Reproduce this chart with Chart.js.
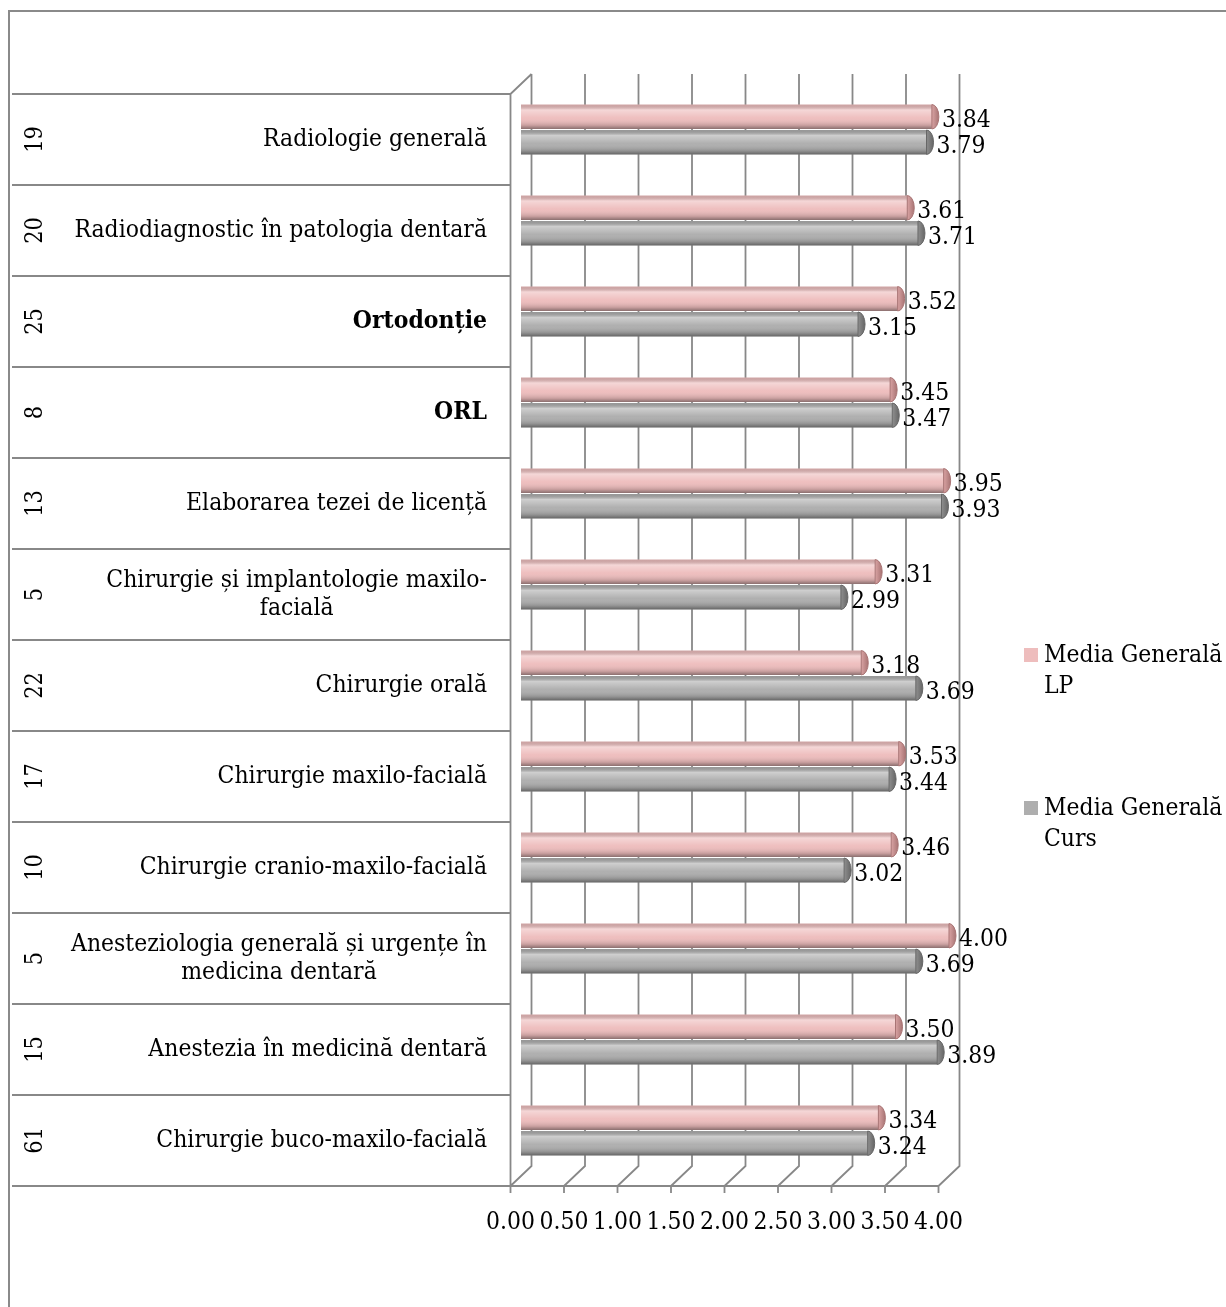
<!DOCTYPE html>
<html lang="ro">
<head>
  <meta charset="UTF-8" />
  <title>Media Generală LP / Curs</title>
  <style>
    body { margin: 0; background: #ffffff; }
    #chart { display: block; }
  </style>
</head>
<body>
  <canvas id="chart" width="1226" height="1307"></canvas>

  <script src="https://cdn.jsdelivr.net/npm/chart.js"></script>
  <script>
    // discipline (de sus in jos), numar de respondenti, medii
    const categories = [
      ['Radiologie generală'],
      ['Radiodiagnostic în patologia dentară'],
      ['Ortodonție'],
      ['ORL'],
      ['Elaborarea tezei de licență'],
      ['Chirurgie și implantologie maxilo-', 'facială'],
      ['Chirurgie orală'],
      ['Chirurgie maxilo-facială'],
      ['Chirurgie cranio-maxilo-facială'],
      ['Anesteziologia generală și urgențe în', 'medicina dentară'],
      ['Anestezia în medicină dentară'],
      ['Chirurgie buco-maxilo-facială']
    ];
    const respondents = ['19', '20', '25', '8', '13', '5', '22', '17', '10', '5', '15', '61'];
    const mediaLP   = [3.84, 3.61, 3.52, 3.45, 3.95, 3.31, 3.18, 3.53, 3.46, 4.00, 3.50, 3.34];
    const mediaCurs = [3.79, 3.71, 3.15, 3.47, 3.93, 2.99, 3.69, 3.44, 3.02, 3.69, 3.89, 3.24];
    const seriesNames = [['Media Generală', 'LP'], ['Media Generală', 'Curs']];

    const FONT = '"DejaVu Serif", serif';
    const boldRows = ['Ortodonție', 'ORL'];
    const DX = 10.5, DY = 10;   // jumatate din adancimea 3D

    // textul din original e putin "intins" pe verticala
    function tallText(ctx, s, x, y, sy = 1.14) {
      ctx.save();
      ctx.translate(x, y);
      ctx.scale(1, sy);
      ctx.fillText(s, 0, 0);
      ctx.restore();
    }

    // pereti, grila si eticheta axei + tabelul de categorii
    const frame3d = {
      id: 'frame3d',
      beforeDatasetsDraw(chart) {
        const { ctx, chartArea: a, scales: { x, y } } = chart;
        const ticks = x.ticks.map(t => t.value);
        const band = y.getPixelForValue(1) - y.getPixelForValue(0);
        ctx.save();
        // rama exterioara
        ctx.strokeStyle = '#8a8a8a';
        ctx.lineWidth = 2;
        ctx.strokeRect(9, 11, 1400, 1400);

        ctx.strokeStyle = '#888888';
        ctx.lineWidth = 1.8;
        ctx.beginPath();
        ticks.forEach(v => {
          const px = x.getPixelForValue(v);
          ctx.moveTo(px + DX, a.top - DY);
          ctx.lineTo(px + DX, a.bottom - DY);
          ctx.lineTo(px - DX, a.bottom + DY);
          ctx.lineTo(px - DX, a.bottom + DY + 7);
        });
        const x0 = x.getPixelForValue(0);
        const xN = x.getPixelForValue(ticks[ticks.length - 1]);
        ctx.moveTo(x0 + DX, a.top - DY);
        ctx.lineTo(x0 - DX, a.top + DY);
        ctx.lineTo(x0 - DX, a.bottom + DY);
        ctx.lineTo(xN - DX, a.bottom + DY);
        // tabel
        for (let i = 0; i <= categories.length; i++) {
          const yy = a.top + DY + i * band;
          ctx.moveTo(12, yy);
          ctx.lineTo(x0 - DX, yy);
        }
        ctx.stroke();

        // etichete axa X
        ctx.fillStyle = '#000';
        ctx.font = '22px ' + FONT;
        ctx.textAlign = 'center';
        ctx.textBaseline = 'middle';
        ticks.forEach(v => {
          tallText(ctx, v.toFixed(2), x.getPixelForValue(v) - DX, a.bottom + DY + 36);
        });

        // nume discipline + numar respondenti
        categories.forEach((lines, i) => {
          const cy = y.getPixelForValue(i) + DY;
          const bold = boldRows.includes(lines[0]);
          ctx.font = (bold ? 'bold ' : '') + '22px ' + FONT;
          const w = Math.max(...lines.map(l => ctx.measureText(l).width));
          const cx = 487 - w / 2;
          const lh = 28;
          ctx.textAlign = 'center';
          lines.forEach((l, j) => {
            tallText(ctx, l, cx, cy + (j - (lines.length - 1) / 2) * lh);
          });
          ctx.save();
          ctx.translate(36, cy);
          ctx.rotate(-Math.PI / 2);
          ctx.font = '21px ' + FONT;
          ctx.scale(1, 1.12);
          ctx.fillText(respondents[i], 0, 0);
          ctx.restore();
        });
        ctx.restore();
      }
    };

    // umbrire cilindrica, capete rotunde si valori
    const cylinders = {
      id: 'cylinders',
      afterDatasetsDraw(chart) {
        const { ctx } = chart;
        const capColors = ['#d9a3a3', '#8f8f8f'];
        const edgeColors = ['#a87474', '#666666'];
        ctx.save();
        chart.data.datasets.forEach((ds, di) => {
          chart.getDatasetMeta(di).data.forEach((bar, i) => {
            const h = bar.height, top = bar.y - h / 2;
            const g = ctx.createLinearGradient(0, top, 0, top + h);
            g.addColorStop(0, 'rgba(0,0,0,0.12)');
            g.addColorStop(0.22, 'rgba(255,255,255,0.40)');
            g.addColorStop(0.55, 'rgba(255,255,255,0.02)');
            g.addColorStop(0.85, 'rgba(0,0,0,0.16)');
            g.addColorStop(1, 'rgba(0,0,0,0.42)');
            ctx.fillStyle = g;
            ctx.fillRect(bar.base, top, bar.x - bar.base, h);
            // capat
            ctx.beginPath();
            ctx.ellipse(bar.x, bar.y, 7, h / 2, 0, -Math.PI / 2, Math.PI / 2);
            ctx.closePath();
            const cg = ctx.createLinearGradient(bar.x, 0, bar.x + 7, 0);
            cg.addColorStop(0, capColors[di]);
            cg.addColorStop(1, edgeColors[di]);
            ctx.fillStyle = cg;
            ctx.fill();
            ctx.strokeStyle = edgeColors[di];
            ctx.lineWidth = 1;
            ctx.stroke();
            // valoare
            ctx.fillStyle = '#000';
            ctx.font = '22px ' + FONT;
            ctx.textAlign = 'left';
            ctx.textBaseline = 'middle';
            tallText(ctx, ds.data[i].toFixed(2), bar.x + 10, bar.y + 4);
          });
        });

        // legenda
        const legendY = [655, 808];
        chart.data.datasets.forEach((ds, di) => {
          ctx.fillStyle = ds.backgroundColor;
          ctx.fillRect(1024, legendY[di] - 7, 14, 14);
          ctx.fillStyle = '#000';
          ctx.textBaseline = 'middle';
          ctx.font = '22px ' + FONT;
          seriesNames[di].forEach((l, j) => tallText(ctx, l, 1044, legendY[di] + j * 31));
        });
        ctx.restore();
      }
    };

    new Chart(document.getElementById('chart'), {
      type: 'bar',
      data: {
        labels: categories,
        datasets: [
          { label: 'Media Generală LP', data: mediaLP, backgroundColor: '#eebdbd' },
          { label: 'Media Generală Curs', data: mediaCurs, backgroundColor: '#aeaeae' }
        ]
      },
      options: {
        indexAxis: 'y',
        responsive: false,
        animation: false,
        layout: { padding: { left: 521, right: 277, top: 84, bottom: 131 } },
        datasets: { bar: { categoryPercentage: 0.56, barPercentage: 0.96 } },
        scales: {
          x: { display: false, min: 0, max: 4, ticks: { stepSize: 0.5 } },
          y: { display: false }
        },
        plugins: { legend: { display: false }, tooltip: { enabled: false } }
      },
      plugins: [frame3d, cylinders]
    });
  </script>
</body>
</html>
